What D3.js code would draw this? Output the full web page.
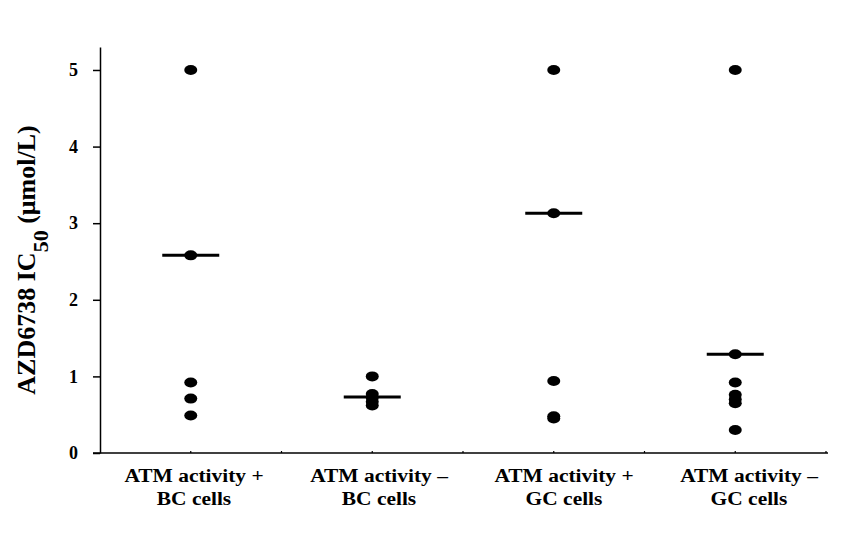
<!DOCTYPE html>
<html>
<head>
<meta charset="utf-8">
<script src="https://cdn.jsdelivr.net/npm/d3@7"></script>
<style>
  html, body { margin: 0; padding: 0; background: #fff; }
  svg { display: block; }
  text { font-family: "Liberation Serif", "Times New Roman", serif; font-weight: bold; fill: #000; }
</style>
</head>
<body>
<svg id="chart" width="857" height="547"></svg>
<script>
// ---- data ----
const categories = ["g1", "g2", "g3", "g4"];
const labelLine1 = ["ATM activity +", "ATM activity \u2013", "ATM activity +", "ATM activity \u2013"];
const labelLine2 = ["BC cells", "BC cells", "GC cells", "GC cells"];
const values1 = [5, 2.58, 0.92, 0.71, 0.49];
const values2 = [1.0, 0.77, 0.72, 0.67, 0.62];
const values3 = [5, 3.13, 0.94, 0.48, 0.45];
const values4 = [5, 1.29, 0.92, 0.76, 0.70, 0.65, 0.30];
const medians = [2.58, 0.73, 3.13, 1.29];
const yTicks = [0, 1, 2, 3, 4, 5];

const groups = [values1, values2, values3, values4];

// ---- layout ----
const svg = d3.select("#chart");
const mLeft = 100, mRight = 826, mTop = 47, mBottom = 453;

const x = d3.scaleBand().domain(categories).range([mLeft, mRight]).paddingInner(0).paddingOuter(0);
const xLab = d3.scalePoint().domain(categories).range([194, 749]);
const y = d3.scaleLinear().domain([0, 5.3]).range([mBottom, mTop]);

// y axis
const yAxis = svg.append("g")
  .attr("transform", `translate(${mLeft},0)`)
  .call(d3.axisLeft(y).tickValues(yTicks).tickFormat(d3.format("d")).tickSize(7).tickPadding(15).tickSizeOuter(0));
yAxis.select(".domain").attr("stroke", "#000").attr("stroke-width", 1.5);
yAxis.selectAll(".tick line").attr("stroke", "#000").attr("stroke-width", 1.5);
yAxis.selectAll(".tick text")
  .style("font-size", "18px")
  .attr("fill", "#000");

// x axis line
const halfTicks = [];
categories.forEach(c => { halfTicks.push(x(c) + x.bandwidth() / 2); halfTicks.push(x(c) + x.bandwidth()); });
svg.append("line")
  .attr("x1", mLeft - 7).attr("x2", mRight + 2)
  .attr("y1", mBottom).attr("y2", mBottom)
  .attr("stroke", "#000").attr("stroke-width", 1.5);
svg.append("g").selectAll("line").data(halfTicks).join("line")
  .attr("x1", d => d).attr("x2", d => d)
  .attr("y1", mBottom).attr("y2", mBottom - 2)
  .attr("stroke", "#000").attr("stroke-width", 1.2);

// x labels
const xl = svg.append("g");
categories.forEach((c, i) => {
  const cx = xLab(c);
  xl.append("text")
    .attr("transform", `translate(${cx},482) scale(1.1,1)`)
    .attr("text-anchor", "middle")
    .style("font-size", "19.5px")
    .text(labelLine1[i]);
  xl.append("text")
    .attr("transform", `translate(${cx},505) scale(1.1,1)`)
    .attr("text-anchor", "middle")
    .style("font-size", "19.5px")
    .text(labelLine2[i]);
});

// y label
const yl = svg.append("text")
  .attr("transform", "translate(35,260) rotate(-90)")
  .attr("text-anchor", "middle")
  .style("font-size", "26px");
yl.append("tspan").text("AZD6738 IC");
yl.append("tspan").attr("baseline-shift", "sub").style("font-size", "22px").text("50");
yl.append("tspan").text(" (\u03bcmol/L)");

// points
groups.forEach((vals, i) => {
  const cx = x(categories[i]) + x.bandwidth() / 2;
  svg.append("g").selectAll("ellipse").data(vals).join("ellipse")
    .attr("cx", cx)
    .attr("cy", d => y(d))
    .attr("rx", 6.5).attr("ry", 5)
    .attr("fill", "#000");
});

// median lines
svg.append("g").selectAll("line").data(medians).join("line")
  .attr("x1", (d, i) => x(categories[i]) + x.bandwidth() / 2 - 28.5)
  .attr("x2", (d, i) => x(categories[i]) + x.bandwidth() / 2 + 28.5)
  .attr("y1", d => y(d)).attr("y2", d => y(d))
  .attr("stroke", "#000").attr("stroke-width", 3);
</script>
</body>
</html>
